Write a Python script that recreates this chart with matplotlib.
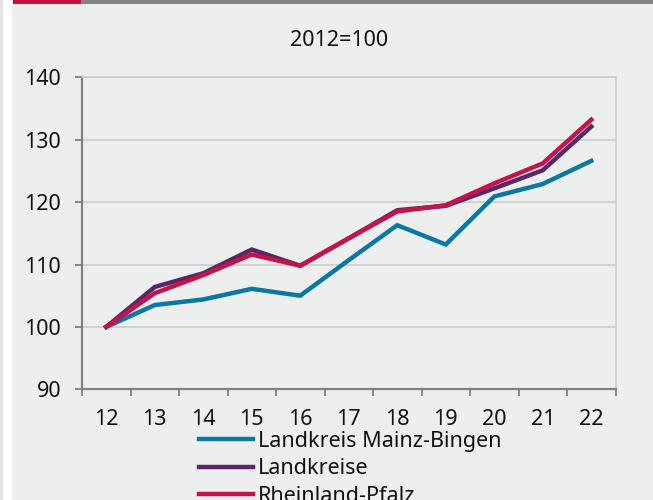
import matplotlib
matplotlib.use("Agg")
import matplotlib.pyplot as plt
from matplotlib.patches import Rectangle

plt.rcParams['font.family'] = ['Noto Sans', 'DejaVu Sans']

years = ["12", "13", "14", "15", "16", "17", "18", "19", "20", "21", "22"]
mainz_bingen = [100, 103.5, 104.4, 106.1, 105.0, 110.7, 116.3, 113.2, 120.9, 122.9, 126.6]
landkreise = [100, 106.4, 108.6, 112.4, 109.8, 114.2, 118.7, 119.4, 122.2, 125.1, 132.1]
rheinland_pfalz = [100, 105.4, 108.3, 111.6, 109.8, 114.2, 118.5, 119.5, 123.0, 126.2, 133.2]
series_labels = ["Landkreis Mainz-Bingen", "Landkreise", "Rheinland-Pfalz"]
title_text = "2012=100"
y_ticks = [90, 100, 110, 120, 130, 140]

bg = "#EDEFEE"
colors = ["#0A78A5", "#5B2668", "#C4124A"]
W, H = 653, 500
FS = 15.5

fig = plt.figure(figsize=(W / 100, H / 100), dpi=100, facecolor=bg)

# frame decorations: left white strip and top colour band
fig.patches.append(Rectangle((0, 0), 3 / W, 1, transform=fig.transFigure,
                             facecolor="#E4E6E6", edgecolor="none", zorder=0))
fig.patches.append(Rectangle((3 / W, 0), 9 / W, 1, transform=fig.transFigure,
                             facecolor="white", edgecolor="none", zorder=0))
fig.patches.append(Rectangle((13 / W, 1 - 4 / H), 68 / W, 4 / H, transform=fig.transFigure,
                             facecolor="#C0143C", edgecolor="none", zorder=1))
fig.patches.append(Rectangle((81 / W, 1 - 4 / H), (W - 81) / W, 4 / H, transform=fig.transFigure,
                             facecolor="#828282", edgecolor="none", zorder=1))

ax = fig.add_axes([82 / W, 1 - 389.3 / H, (615.5 - 82) / W, (389.3 - 77.3) / H])
ax.set_facecolor(bg)

x = list(range(len(years)))
for vals, lab, col in zip([mainz_bingen, landkreise, rheinland_pfalz], series_labels, colors):
    ax.plot(x, vals, color=col, lw=3.2, label=lab, solid_joinstyle="miter", zorder=3)

ax.set_xlim(-0.5, len(years) - 0.5)
ax.set_ylim(90, 140)
ax.set_yticks(y_ticks)
ax.set_xticks(x)
ax.set_xticklabels(years)
ax.set_xticks([i - 0.5 for i in range(len(years) + 1)], minor=True)

ax.grid(axis="y", color="#C8C8C8", lw=1.1, zorder=1)
ax.set_axisbelow(True)

for s in ("top", "right"):
    ax.spines[s].set_color("#C8C8C8")
    ax.spines[s].set_linewidth(1.1)
for s in ("left", "bottom"):
    ax.spines[s].set_color("#808080")
    ax.spines[s].set_linewidth(1.6)

ax.tick_params(axis="y", length=5, width=1.3, color="#808080", pad=10, labelsize=FS, labelcolor="#111111")
ax.tick_params(axis="x", which="major", length=0, pad=14, labelsize=FS, labelcolor="#111111")
ax.tick_params(axis="x", which="minor", length=5, width=1.3, color="#808080")

fig.text(339 / W, 1 - 40 / H, title_text, ha="center", va="center", fontsize=FS, color="#111111")

leg = fig.legend(loc="upper left", bbox_to_anchor=(199 / W, 1 - 431 / H), frameon=False,
                 fontsize=FS, handlelength=2.5, handletextpad=0.25, labelspacing=0.3,
                 borderaxespad=0, borderpad=0)
for t in leg.get_texts():
    t.set_color("#111111")

fig.savefig("out.png", dpi=100, facecolor=bg)
